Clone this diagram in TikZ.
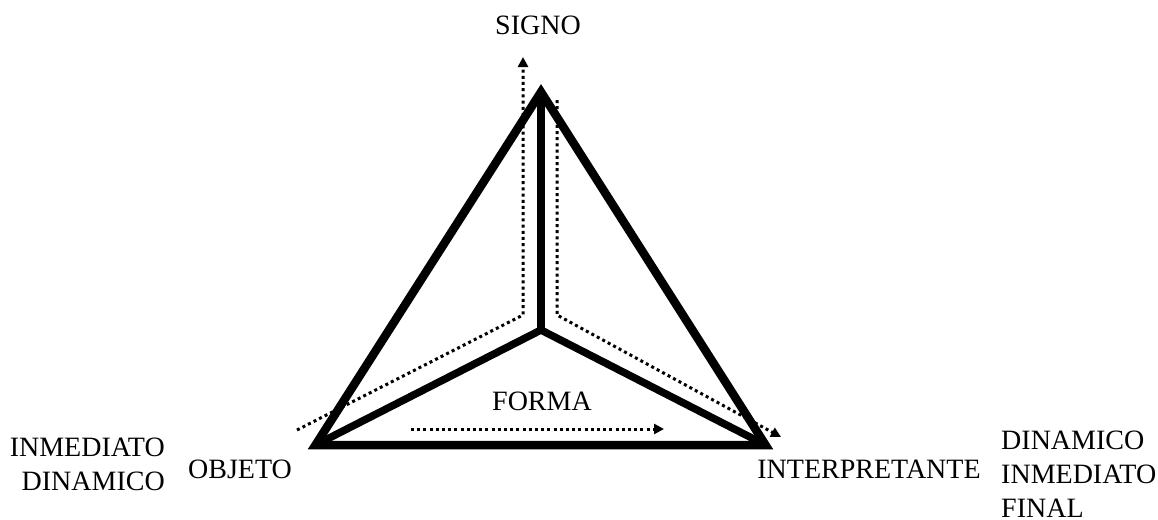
\documentclass[tikz,border=0pt]{standalone}
\usepackage{fontspec}
\setmainfont{Liberation Serif}
\usetikzlibrary{arrows.meta}
\tikzset{
  thick line/.style={line width=8.5pt,line join=miter,miter limit=20},
  dotline/.style={line width=3pt,dash pattern=on 3pt off 3.2pt,-{Triangle[length=10pt,width=10pt]}},
  lab/.style={inner sep=0pt,font=\fontsize{28}{32}\selectfont,anchor=base}
}
\begin{document}
\begin{tikzpicture}[x=1pt,y=-1pt]
\useasboundingbox (0,0) rectangle (1158,519);
\coordinate (apex) at (541,92);
\coordinate (left) at (315.5,445);
\coordinate (right) at (765.5,445);
\coordinate (mid) at (541,330);
\coordinate (l0) at (297,430);
\coordinate (l1) at (523,315);
\coordinate (l2) at (523,57);
\coordinate (r0) at (557,100);
\coordinate (r1) at (557,315);
\coordinate (r2) at (781,437);
\coordinate (f0) at (411,429);
\coordinate (f1) at (664,429);
\draw[dotline] (l0) -- (l1) -- (l2);
\draw[dotline] (r0) -- (r1) -- (r2);
\draw[dotline] (f0) -- (f1);
\draw[thick line] (left) -- (apex) -- (right) -- cycle;
\draw[thick line,line width=7.5pt] (apex) -- (mid);
\draw[thick line,line width=7.5pt] (left) -- (mid) -- (right);
\node[lab] (signo) at (538,35) {SIGNO};
\node[lab] (forma) at (542,410.5) {FORMA};
\node[lab] (objeto) at (240,478.5) {OBJETO};
\node[lab] (interp) at (869,478) {INTERPRETANTE};
\node[lab,anchor=base east] (inm1) at (165,456.5) {INMEDIATO};
\node[lab,anchor=base east] (din1) at (165,490) {DINAMICO};
\node[lab,anchor=base west] (din2) at (1001,449) {DINAMICO};
\node[lab,anchor=base west] (inm2) at (1001,483) {INMEDIATO};
\node[lab,anchor=base west] (fin2) at (1001,517) {FINAL};
\end{tikzpicture}
\end{document}
